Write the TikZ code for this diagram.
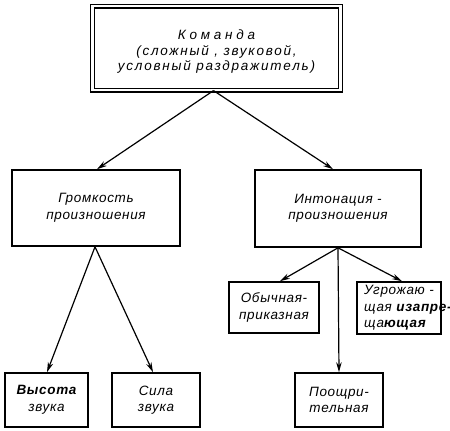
\documentclass[tikz,border=0pt]{standalone}
\usepackage{fontspec}
\setmainfont{Liberation Sans}
\usetikzlibrary{arrows.meta,calc}
\begin{document}
\begin{tikzpicture}[x=1pt,y=-1pt,
  every node/.style={font=\fontsize{13.5}{16.5}\selectfont\itshape\addfontfeatures{LetterSpace=5}},
  box/.style={draw,line width=1.6pt,align=center,inner sep=0pt},
  arr/.style={line width=1.2pt,-{Stealth[length=10pt,width=5.5pt]}}]
\useasboundingbox (0,0) rectangle (450,431);
\node[box,double,double distance=2.6pt,line width=1.2pt,minimum width=248,minimum height=84] (top) at (216.5,48) {};
\node[align=center,font=\fontsize{13.5}{15.5}\selectfont\itshape\addfontfeatures{LetterSpace=13}] (toptext) at (216.5,52)
  {{\addfontfeatures{LetterSpace=28}Команда}\\(сложный , звуковой,\\условный раздражитель)};
\node[box,minimum width=168,minimum height=76] (vol) at (96,208) {Громкость\\произношения};
\node[box,minimum width=166,minimum height=77] (int) at (338,208.5) {Интонация -\\произношения};
\node[box,minimum width=90,minimum height=51] (ord) at (274,307.5) {Обычная-\\приказная};
\node[box,minimum width=84,minimum height=52] (thr) at (399,308) {};
\node[align=left,anchor=west,inner sep=0pt] (thrtext) at (364,308) {Угрожаю -\\щая \textbf{изапре-}\\ща\textbf{ющая}};
\node[box,minimum width=83,minimum height=54] (pit) at (46.5,400) {\textbf{Высота}\\звука};
\node[box,minimum width=88,minimum height=54] (str) at (156,400) {Сила\\звука};
\node[box,minimum width=88,minimum height=54] (enc) at (339,400) {Поощри-\\тельная};
\coordinate (ts) at ($(top.south)+(-3,0)$);
\draw[arr] (ts) -- ($(vol.north)+(1,0)$);
\draw[arr] (ts) -- ($(int.north)+(-5,0)$);
\coordinate (vs) at ($(vol.south)+(-1,0)$);
\draw[arr] (vs) -- ($(pit.north)+(0.5,0)$);
\draw[arr] (vs) -- ($(str.north)+(-3,0)$);
\draw[arr] (int.south) -- ($(ord.north)+(6,0)$);
\draw[arr] (int.south) -- ($(thr.north)+(3,0)$);
\draw[arr] (int.south) -- (enc.north);
\end{tikzpicture}
\end{document}
